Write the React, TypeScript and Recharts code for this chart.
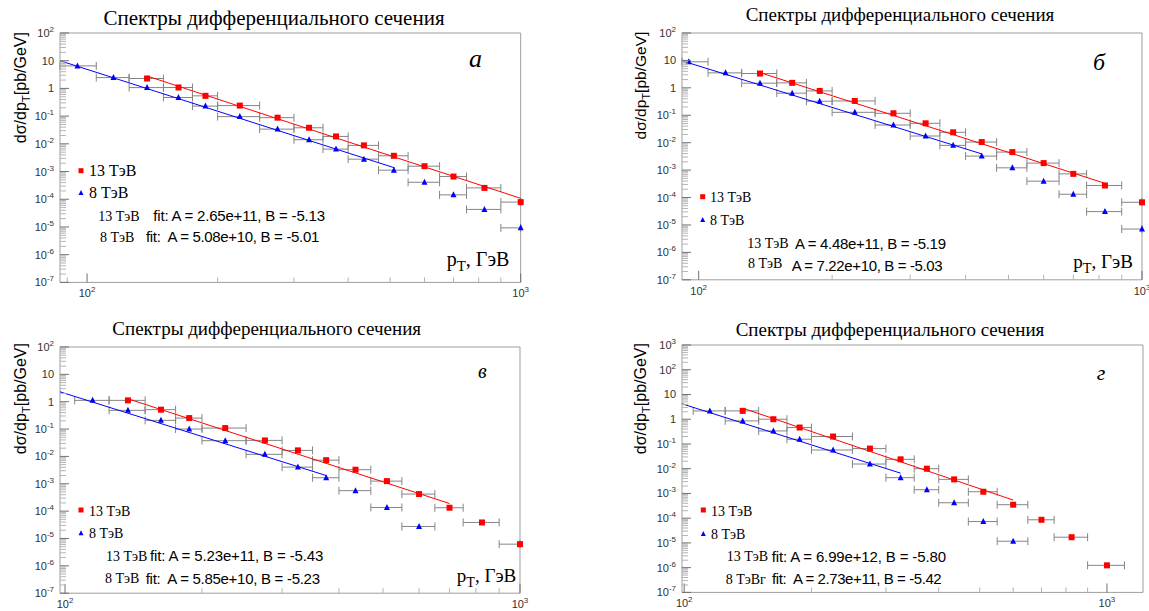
import React from "react";
import { ComposedChart, Scatter, Line, XAxis, YAxis, ErrorBar, ReferenceArea } from "recharts";

const SERIF = '"Liberation Serif", "Times New Roman", serif';
const SANS = '"Liberation Sans", Arial, sans-serif';
const FRAME = "#9e9e9e";
const TICK_MAJOR = "#707070";
const TICK_MINOR = "#b4b4b4";
const ERR_COLOR = "#858585";
const RED = "#ff0000";
const BLUE = "#0000ff";

// pT bin centres and half widths, GeV (same binning in all four panels)
const BIN_PT = [95, 115, 137.5, 162.5, 187.5, 225, 275, 325, 375, 435, 510, 600, 700, 825, 1000];
const BIN_HALF = [10, 10, 12.5, 12.5, 12.5, 25, 25, 25, 25, 35, 40, 50, 50, 75, 100];

// panel a (pb/GeV)
const A_8TEV = [6.5, 2.46, 1.07, 0.47, 0.23, 0.096, 0.034, 0.0141, 0.00645, 0.0028, 0.00112, 4.1e-4, 1.44e-4, 4.3e-5, 9.3e-6];
const A_13TEV = [2.28, 1.08, 0.54, 0.24, 0.088, 0.038, 0.0185, 0.0088, 0.0037, 0.00156, 6.6e-4, 2.57e-4, 7.9e-5];
const A_FIT_8 = [{ pt: 86.6, v: 10 }, { pt: 512, v: 1.36e-3 }];
const A_FIT_13 = [{ pt: 137.5, v: 2.8 }, { pt: 1000, v: 1.08e-4 }];

// panel б
const B_8TEV = [8.9, 3.52, 1.48, 0.64, 0.324, 0.128, 0.0441, 0.0175, 0.00798, 0.00324, 0.00121, 3.95e-4, 1.32e-4, 3.07e-5, 7.1e-6];
const B_13TEV = [3.33, 1.52, 0.774, 0.333, 0.118, 0.0509, 0.0239, 0.01055, 0.00454, 0.0018, 7.3e-4, 2.75e-4, 6.7e-5];
const B_FIT_8 = [{ pt: 91.7, v: 9.7 }, { pt: 435, v: 3.9e-3 }];
const B_FIT_13 = [{ pt: 137.5, v: 3.6 }, { pt: 825, v: 3.3e-4 }];

// panel в
const V_8TEV = [1.12, 0.483, 0.208, 0.1, 0.0376, 0.0119, 0.00407, 0.00166, 5.6e-4, 1.36e-4, 2.75e-5];
const V_13TEV = [1.12, 0.512, 0.252, 0.1087, 0.0385, 0.0166, 0.0073, 0.00327, 0.00125, 4.2e-4, 1.33e-4, 3.85e-5, 6.2e-6];
const V_FIT_8 = [{ pt: 97.5, v: 2.3 }, { pt: 375, v: 2.0e-3 }];
const V_FIT_13 = [{ pt: 137.5, v: 1.28 }, { pt: 700, v: 1.9e-4 }];

// panel г
const G_8TEV = [2.17, 0.855, 0.336, 0.155, 0.057, 0.01545, 0.00434, 0.00141, 4.2e-4, 7.3e-5, 1.17e-5];
const G_13TEV = [2.17, 1.0, 0.461, 0.2, 0.065, 0.0239, 0.01, 0.0037, 0.00117, 3.5e-4, 8.6e-5, 1.7e-5, 1.24e-6];
const G_FIT_8 = [{ pt: 98.8, v: 4.2 }, { pt: 325, v: 6.6e-3 }];
const G_FIT_13 = [{ pt: 137.5, v: 2.8 }, { pt: 600, v: 5.4e-4 }];

// axis ticks
const MINOR_FACTORS = [1, 2, 3, 4, 5, 6, 7, 8, 9];
const Y_DECADES_9 = [-7, -6, -5, -4, -3, -2, -1, 0, 1, 2];
const Y_DECADES_10 = [-7, -6, -5, -4, -3, -2, -1, 0, 1, 2, 3];
const X_TICKS_A = [90, 100, 200, 300, 400, 500, 600, 700, 800, 900, 1000];
const X_TICKS = [100, 200, 300, 400, 500, 600, 700, 800, 900, 1000];

const TITLE = "Спектры дифференциального сечения";
const LEG_13 = "13 ТэВ";
const LEG_8 = "8 ТэВ";

function yTicksFor(decades: number[]) {
  const out: number[] = [];
  decades.forEach((e, i) => {
    if (i === decades.length - 1) {
      out.push(Math.pow(10, e));
      return;
    }
    MINOR_FACTORS.forEach((f) => out.push(f * Math.pow(10, e)));
  });
  return out;
}

// bin data; visible error bar is cut at the frame like in the original
function series(vals: number[], start: number, dom: number[]) {
  return vals.map((v, i) => {
    const pt = BIN_PT[start + i];
    const hw = BIN_HALF[start + i];
    return { pt, v, err: [Math.min(hw, pt - dom[0]), Math.min(hw, dom[1] - pt)] };
  });
}

const isDecade = (v: number) => Math.abs(Math.log10(v) - Math.round(Math.log10(v))) < 1e-6;

function YTick(props: any) {
  const { x, y, payload } = props;
  const v = payload.value;
  const e = Math.round(Math.log10(v));
  const major = isDecade(v);
  return (
    <g>
      <line x1={x} x2={x + (major ? 9 : 6)} y1={y} y2={y} stroke={major ? TICK_MAJOR : TICK_MINOR} strokeWidth={1} />
      {major && (
        <text x={x - 6} y={y + 4} textAnchor="end" fontFamily={SANS} fontSize={11} fill="#333">
          {e === 0 ? "1" : "10"}
          {e !== 0 && e !== 1 && (
            <tspan dy={-5} fontSize={8}>
              {String(e)}
            </tspan>
          )}
        </text>
      )}
    </g>
  );
}

function XTick(props: any) {
  const { x, y, payload } = props;
  const v = payload.value;
  const e = Math.round(Math.log10(v));
  const major = isDecade(v);
  return (
    <g>
      <line x1={x} x2={x} y1={y} y2={y - (major ? 9 : 5)} stroke={major ? TICK_MAJOR : TICK_MINOR} strokeWidth={1} />
      {major && (
        <text x={x} y={y + 15} textAnchor="middle" fontFamily={SANS} fontSize={11} fill="#333">
          10
          <tspan dy={-5} fontSize={8}>
            {String(e)}
          </tspan>
        </text>
      )}
    </g>
  );
}

const Square = (p: any) => <rect x={p.cx - 3} y={p.cy - 3} width={6} height={6} fill={RED} />;
const Tri = (p: any) => (
  <polygon points={`${p.cx},${p.cy - 3.5} ${p.cx - 3},${p.cy + 2.5} ${p.cx + 3},${p.cy + 2.5}`} fill={BLUE} />
);

type Frame = { l: number; t: number; r: number; b: number };

function Panel(props: {
  frame: Frame;
  xDomain: number[];
  yDomain: number[];
  xTicks: number[];
  yTicks: number[];
  d8: any[];
  d13: any[];
  fit8: any[];
  fit13: any[];
}) {
  const { frame, xDomain, yDomain, xTicks, yTicks, d8, d13, fit8, fit13 } = props;
  const ML = 60, MT = 20, MR = 20, XH = 25;
  const w = frame.r - frame.l + ML + MR;
  const h = frame.b - frame.t + MT + XH;
  return (
    <div style={{ position: "absolute", left: frame.l - ML, top: frame.t - MT, width: w, height: h }}>
      <ComposedChart width={w} height={h} margin={{ top: MT, right: MR, bottom: 0, left: 0 }}>
        <XAxis
          type="number"
          dataKey="pt"
          scale="log"
          domain={xDomain}
          ticks={xTicks}
          interval={0}
          tickSize={0}
          tickMargin={0}
          height={XH}
          axisLine={false}
          tick={<XTick />}
        />
        <YAxis
          type="number"
          dataKey="v"
          scale="log"
          domain={yDomain}
          ticks={yTicks}
          interval={0}
          width={ML}
          tickSize={0}
          tickMargin={0}
          axisLine={false}
          tick={<YTick />}
        />
        <ReferenceArea
          x1={xDomain[0]}
          x2={xDomain[1]}
          y1={yDomain[0]}
          y2={yDomain[1]}
          fill="none"
          stroke={FRAME}
          strokeWidth={1}
          ifOverflow="visible"
        />
        <Scatter data={d8} dataKey="v" shape={Tri} isAnimationActive={false}>
          <ErrorBar dataKey="err" direction="x" width={4} stroke={ERR_COLOR} strokeWidth={1} isAnimationActive={false} />
        </Scatter>
        <Scatter data={d13} dataKey="v" shape={Square} isAnimationActive={false}>
          <ErrorBar dataKey="err" direction="x" width={4} stroke={ERR_COLOR} strokeWidth={1} isAnimationActive={false} />
        </Scatter>
        <Line data={fit8} dataKey="v" stroke={BLUE} strokeWidth={1} dot={false} activeDot={false} isAnimationActive={false} />
        <Line data={fit13} dataKey="v" stroke={RED} strokeWidth={1} dot={false} activeDot={false} isAnimationActive={false} />
      </ComposedChart>
    </div>
  );
}

function T(p: { x: number; y: number; size: number; font?: string; anchor?: string; italic?: boolean; len?: number; children: any }) {
  return (
    <text
      x={p.x}
      y={p.y}
      fontSize={p.size}
      fontFamily={p.font || SERIF}
      fontStyle={p.italic ? "italic" : "normal"}
      textAnchor={p.anchor || "start"}
      fill="#000"
      textLength={p.len}
      lengthAdjust={p.len ? "spacing" : undefined}
      style={{ whiteSpace: "pre" }}
    >
      {p.children}
    </text>
  );
}

function YTitle({ x, y, size }: { x: number; y: number; size: number }) {
  return (
    <text transform={`translate(${x},${y}) rotate(-90)`} textAnchor="end" fontFamily={SANS} fontSize={size} fill="#000">
      dσ/dp
      <tspan dy={4} fontSize={size * 0.72}>
        T
      </tspan>
      <tspan dy={-4}>[pb/GeV]</tspan>
    </text>
  );
}

function PtLabel({ x, y, size }: { x: number; y: number; size: number }) {
  return (
    <text x={x} y={y} fontFamily={SERIF} fontSize={size} fill="#000">
      p
      <tspan dy={5} fontSize={size * 0.75}>
        T
      </tspan>
      <tspan dy={-5}>, ГэВ</tspan>
    </text>
  );
}

function Legend({ mx, y13, y8, tx, size }: { mx: number; y13: number; y8: number; tx: number; size: number }) {
  return (
    <g>
      <rect x={mx - 2.5} y={y13 - 2.5} width={5} height={5} fill={RED} />
      <polygon points={`${mx},${y8 - 3} ${mx - 2.5},${y8 + 2} ${mx + 2.5},${y8 + 2}`} fill={BLUE} />
      <T x={tx} y={y13 + 5.5} size={size}>
        {LEG_13}
      </T>
      <T x={tx} y={y8 + 5} size={size}>
        {LEG_8}
      </T>
    </g>
  );
}

const FRAME_A = { l: 60, t: 33.3, r: 520.7, b: 282.7 };
const FRAME_B = { l: 681.7, t: 32.5, r: 1141.7, b: 279.3 };
const FRAME_V = { l: 60, t: 346.5, r: 520, b: 592.7 };
const FRAME_G = { l: 681.7, t: 345.3, r: 1142.7, b: 592.7 };
const DOM_A = [86.6, 1000];
const DOM_B = [91.7, 1000];
const DOM_V = [97.5, 1000];
const DOM_G = [98.8, 1217];
const Y_DOM = [1e-7, 1e2];
const Y_DOM_G = [1e-7, 1e3];

export default function App() {
  const yt9 = yTicksFor(Y_DECADES_9);
  const yt10 = yTicksFor(Y_DECADES_10);
  return (
    <div style={{ position: "absolute", left: 0, top: 0, width: 1149, height: 611, background: "#fff", overflow: "hidden" }}>
      <Panel frame={FRAME_A} xDomain={DOM_A} yDomain={Y_DOM} xTicks={X_TICKS_A} yTicks={yt9}
        d8={series(A_8TEV, 0, DOM_A)} d13={series(A_13TEV, 2, DOM_A)} fit8={A_FIT_8} fit13={A_FIT_13} />
      <Panel frame={FRAME_B} xDomain={DOM_B} yDomain={Y_DOM} xTicks={X_TICKS} yTicks={yt9}
        d8={series(B_8TEV, 0, DOM_B)} d13={series(B_13TEV, 2, DOM_B)} fit8={B_FIT_8} fit13={B_FIT_13} />
      <Panel frame={FRAME_V} xDomain={DOM_V} yDomain={Y_DOM} xTicks={X_TICKS} yTicks={yt9}
        d8={series(V_8TEV, 1, DOM_V)} d13={series(V_13TEV, 2, DOM_V)} fit8={V_FIT_8} fit13={V_FIT_13} />
      <Panel frame={FRAME_G} xDomain={DOM_G} yDomain={Y_DOM_G} xTicks={X_TICKS} yTicks={yt10}
        d8={series(G_8TEV, 1, DOM_G)} d13={series(G_13TEV, 2, DOM_G)} fit8={G_FIT_8} fit13={G_FIT_13} />

      <svg width={1149} height={611} style={{ position: "absolute", left: 0, top: 0, pointerEvents: "none" }}>
        {/* titles */}
        <T x={274} y={25} size={21} anchor="middle">{TITLE}</T>
        <T x={900} y={20.5} size={19} anchor="middle">{TITLE}</T>
        <T x={266.7} y={335} size={19} anchor="middle">{TITLE}</T>
        <T x={890} y={335.5} size={19} anchor="middle">{TITLE}</T>

        {/* y axis titles */}
        <YTitle x={25.5} y={32} size={16} />
        <YTitle x={645.5} y={31.7} size={15.5} />
        <YTitle x={25.5} y={343} size={16} />
        <YTitle x={646} y={343} size={16} />

        {/* panel letters */}
        <T x={469} y={66.7} size={26} italic>а</T>
        <T x={1093} y={70} size={24} italic>б</T>
        <T x={478} y={378} size={20} italic>в</T>
        <T x={1096.7} y={380} size={22} italic>г</T>

        {/* x axis titles */}
        <PtLabel x={446.7} y={266} size={20} />
        <PtLabel x={1073.3} y={268.3} size={19} />
        <PtLabel x={456.7} y={581.7} size={19} />

        {/* legends */}
        <Legend mx={81} y13={170.7} y8={193} tx={89} size={16} />
        <Legend mx={702.7} y13={196.7} y8={220} tx={710} size={14} />
        <Legend mx={81} y13={510} y8={533.3} tx={89} size={14} />
        <Legend mx={703.3} y13={510} y8={534} tx={711} size={14} />

        {/* fit results */}
        <T x={98.3} y={220.7} size={14}>13 ТэВ</T>
        <T x={153.3} y={221} size={15} font={SANS} len={171.7}>fit: A = 2.65e+11, B = -5.13</T>
        <T x={100} y={241.7} size={14}>8 ТэВ</T>
        <T x={146} y={242} size={15} font={SANS} len={173.3}>fit:  A = 5.08e+10, B = -5.01</T>

        <T x={747.3} y={248.3} size={14}>13 ТэВ</T>
        <T x={795} y={249} size={15} font={SANS} len={151}>A = 4.48e+11, B = -5.19</T>
        <T x={748} y={268.3} size={14}>8 ТэВ</T>
        <T x={791.7} y={271} size={15} font={SANS} len={151}>A = 7.22e+10, B = -5.03</T>

        <T x={106} y={560.7} size={14}>13 ТэВ</T>
        <T x={150} y={561} size={15} font={SANS} len={173.3}>fit: A = 5.23e+11, B = -5.43</T>
        <T x={105} y={583} size={14}>8 ТэВ</T>
        <T x={145.7} y={583.5} size={15} font={SANS} len={174.3}>fit:  A = 5.85e+10, B = -5.23</T>

        <T x={726.7} y={561} size={14}>13 ТэВ</T>
        <T x={771.7} y={561.5} size={15} font={SANS} len={174.3}>fit: A = 6.99e+12, B = -5.80</T>
        <T x={725.7} y={583.5} size={14}>8 ТэВг</T>
        <T x={772} y={584} size={15} font={SANS} len={169.7}>fit:  A = 2.73e+11, B = -5.42</T>
      </svg>
    </div>
  );
}
